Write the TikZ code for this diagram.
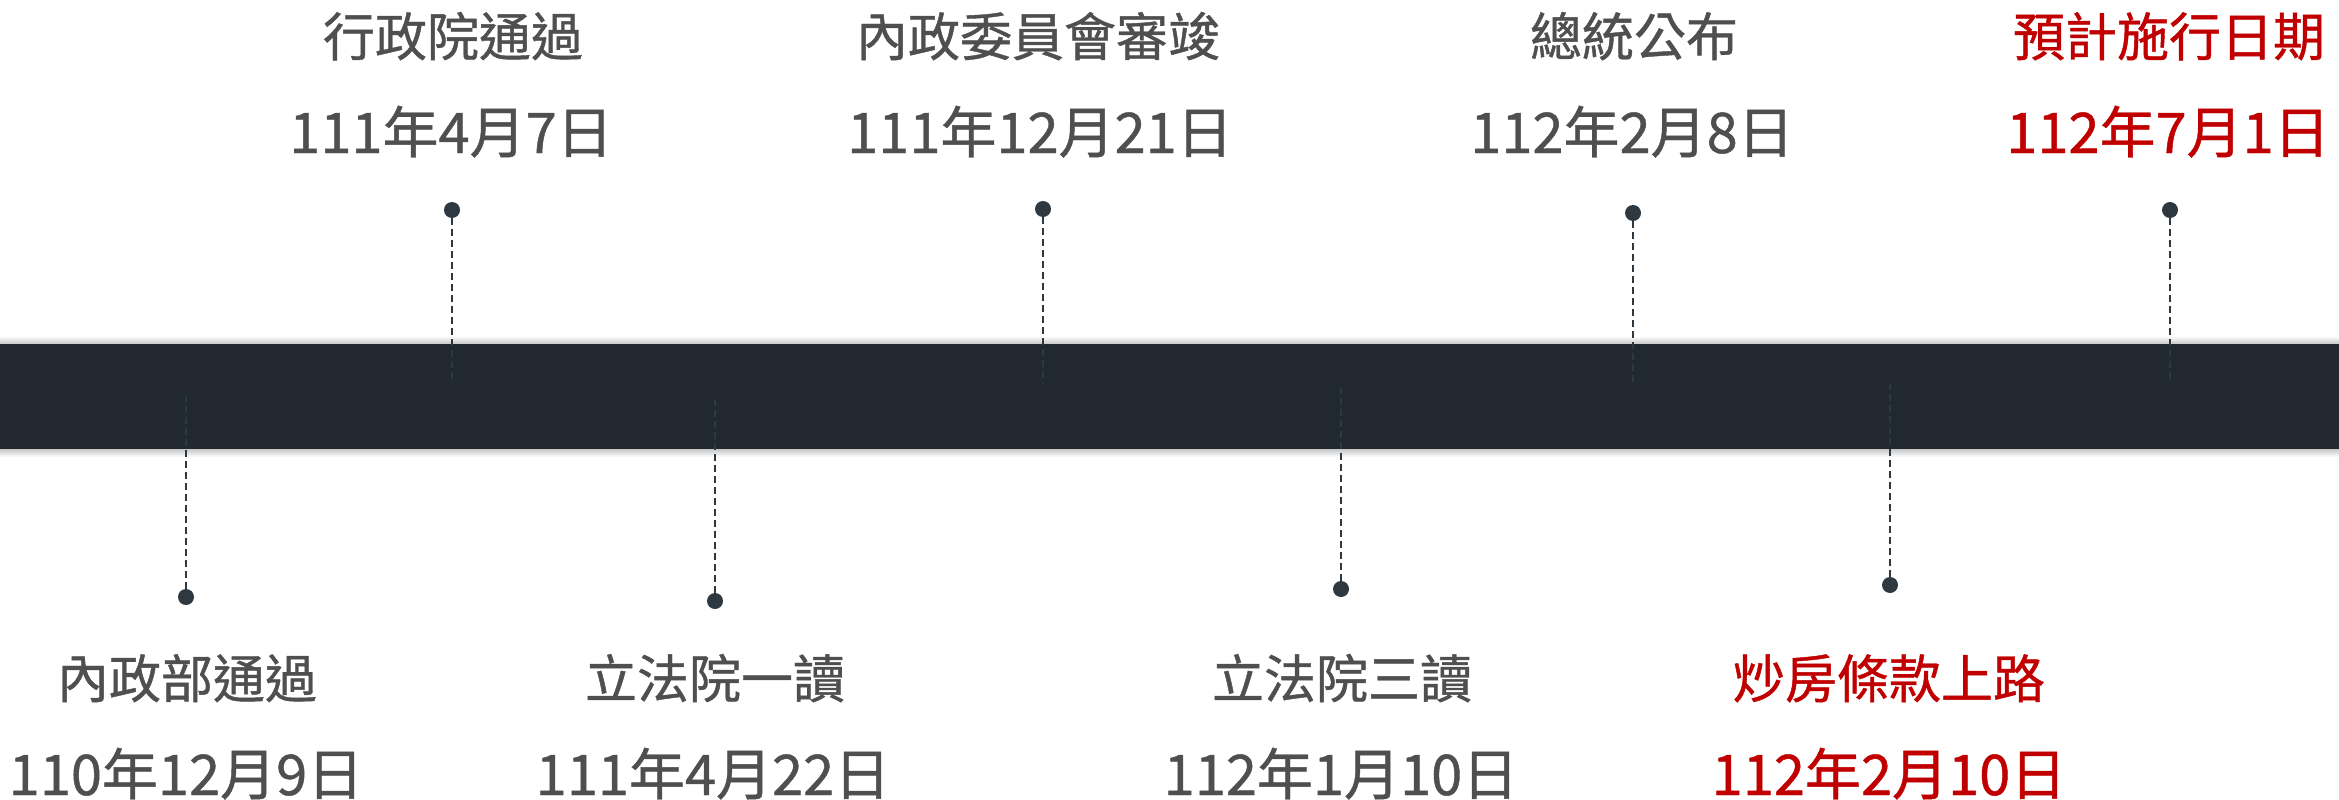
\documentclass[tikz,border=0pt]{standalone}
\usepackage{fontspec}
\setmainfont[FakeBold=0.8]{Noto Sans CJK TC}
\usetikzlibrary{shadings}
\definecolor{barc}{HTML}{22282F}
\definecolor{dotc}{HTML}{2E3841}
\definecolor{txtc}{HTML}{4F4F4F}
\definecolor{redc}{HTML}{C00000}
\tikzset{
  dotnode/.style={circle, fill=dotc, minimum size=16pt, inner sep=0pt},
  dashline/.style={draw=dotc, line width=2.4pt, dash pattern=on 7pt off 4pt},
  titletxt/.style={anchor=base, inner sep=0pt, text=txtc, font=\fontsize{52pt}{60pt}\selectfont},
  datetxt/.style={anchor=base, inner sep=0pt, text=txtc, font=\fontsize{56pt}{66pt}\selectfont},
  redtxt/.style={text=redc},
  barnode/.style={fill=barc, minimum width=2339pt, minimum height=105pt, inner sep=0pt, draw=none}
}
\begin{document}
\begin{tikzpicture}[x=1pt,y=-1pt]
\useasboundingbox (0,0) rectangle (2339,800);
% bar shadow
\shade[top color=white, bottom color=black!22] (0,336) rectangle (2339,344);
\shade[top color=black!22, bottom color=white] (0,449) rectangle (2339,457);
\node[barnode] (bar) at (1169.5,396.5) {};

% top events
\node[dotnode] (d1) at (452,210) {};
\node[dotnode] (d2) at (1043,209) {};
\node[dotnode] (d3) at (1633,213) {};
\node[dotnode] (d4) at (2170,210) {};
\coordinate (e1) at (452,381);
\coordinate (e2) at (1043,383);
\coordinate (e3) at (1633,385);
\coordinate (e4) at (2170,381);
\draw[dashline] (d1) -- (e1);
\draw[dashline] (d2) -- (e2);
\draw[dashline] (d3) -- (e3);
\draw[dashline] (d4) -- (e4);

% bottom events
\node[dotnode] (b1) at (186,597) {};
\node[dotnode] (b2) at (715,601) {};
\node[dotnode] (b3) at (1341,589) {};
\node[dotnode] (b4) at (1890,585) {};
\coordinate (f1) at (186,397);
\coordinate (f2) at (715,400);
\coordinate (f3) at (1341,388);
\coordinate (f4) at (1890,384);
\draw[dashline] (b1) -- (f1);
\draw[dashline] (b2) -- (f2);
\draw[dashline] (b3) -- (f3);
\draw[dashline] (b4) -- (f4);

% top labels
\node[titletxt] (t1) at (453,56) {行政院通過};
\node[datetxt] (s1) at (451,153) {111年4月7日};
\node[titletxt] (t2) at (1038,56) {內政委員會審竣};
\node[datetxt] (s2) at (1040,153) {111年12月21日};
\node[titletxt] (t3) at (1634,56) {總統公布};
\node[datetxt] (s3) at (1632,153) {112年2月8日};
\node[titletxt, redtxt] (t4) at (2169,56) {預計施行日期};
\node[datetxt, redtxt] (s4) at (2168,153) {112年7月1日};

% bottom labels
\node[titletxt] (u1) at (187,698) {內政部通過};
\node[datetxt] (v1) at (186,795) {110年12月9日};
\node[titletxt] (u2) at (715,698) {立法院一讀};
\node[datetxt] (v2) at (713,795) {111年4月22日};
\node[titletxt] (u3) at (1342,698) {立法院三讀};
\node[datetxt] (v3) at (1341,795) {112年1月10日};
\node[titletxt, redtxt] (u4) at (1889,698) {炒房條款上路};
\node[datetxt, redtxt] (v4) at (1889,795) {112年2月10日};
\end{tikzpicture}
\end{document}
